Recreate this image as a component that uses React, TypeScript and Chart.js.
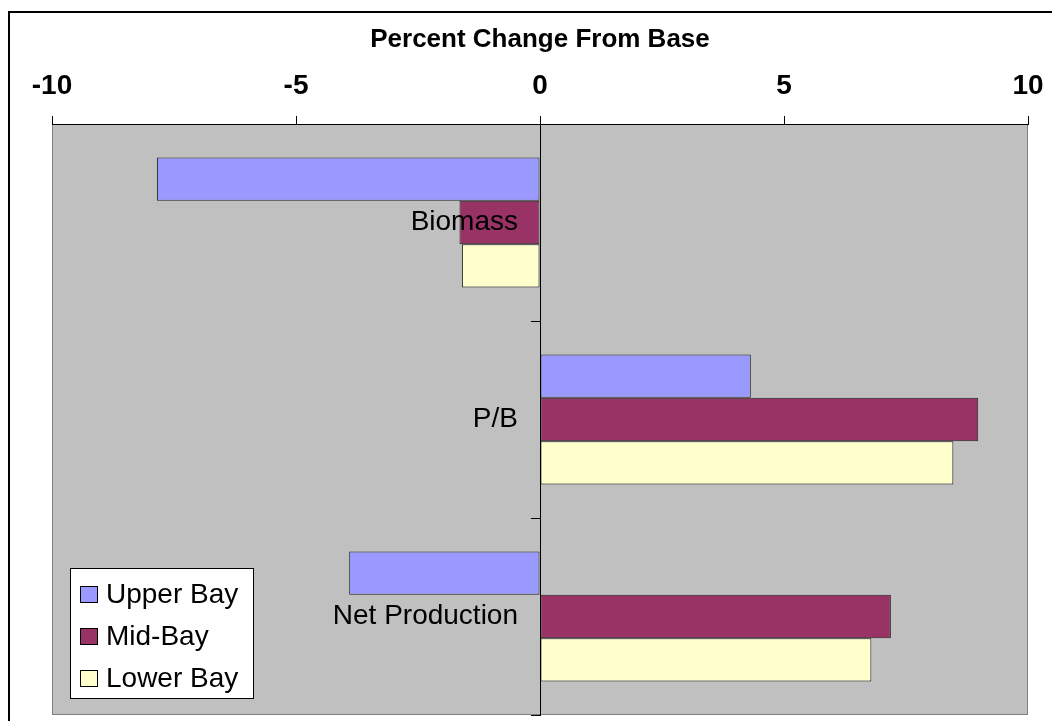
import React, { useEffect, useRef } from "react";
import { Chart, registerables } from "chart.js";

Chart.register(...registerables);

const categories = ["Biomass", "P/B", "Net Production"];
const seriesNames = ["Upper Bay", "Mid-Bay", "Lower Bay"];
const upperBay = [-7.85, 4.32, -3.91];
const midBay = [-1.65, 8.98, 7.19];
const lowerBay = [-1.6, 8.47, 6.79];
const seriesColors = ["#9999FF", "#993366", "#FFFFCC"];
const xTicks = [-10, -5, 0, 5, 10];
const axisTitle = "Percent Change From Base";

const FONT = "'Liberation Sans', Arial, sans-serif";
const Y_LABEL_GAP = 22;

const framePlugin = {
  id: "frame",
  beforeDraw(chart: any) {
    const { ctx, chartArea: a } = chart;
    // shift category labels left of the zero axis (library computes them at the axis line)
    const yScale = chart.scales.y;
    const items: any = yScale.getLabelItems();
    if (!items._shifted) {
      items.forEach((it: any) => {
        it.options.translation[0] -= Y_LABEL_GAP;
      });
      items._shifted = true;
    }
    ctx.save();
    ctx.fillStyle = "#ffffff";
    ctx.fillRect(0, 0, chart.width, chart.height);
    ctx.strokeStyle = "#000000";
    ctx.lineWidth = 2;
    ctx.beginPath();
    ctx.moveTo(9, chart.height);
    ctx.lineTo(9, 12);
    ctx.lineTo(chart.width, 12);
    ctx.stroke();
    ctx.fillStyle = "#C0C0C0";
    ctx.fillRect(a.left, a.top, a.right - a.left, a.bottom - a.top);
    ctx.strokeStyle = "#808080";
    ctx.lineWidth = 1;
    ctx.strokeRect(a.left + 0.5, a.top + 0.5, a.right - a.left - 1, a.bottom - a.top - 1);
    ctx.restore();
  },
  afterDraw(chart: any) {
    const { ctx } = chart;
    const bx = 70, by = 568, bw = 183, bh = 130;
    ctx.save();
    ctx.fillStyle = "#ffffff";
    ctx.fillRect(bx, by, bw, bh);
    ctx.strokeStyle = "#000000";
    ctx.lineWidth = 1;
    ctx.strokeRect(bx + 0.5, by + 0.5, bw, bh);
    ctx.font = `28px ${FONT}`;
    ctx.textBaseline = "middle";
    ctx.textAlign = "left";
    chart.data.datasets.forEach((ds: any, i: number) => {
      const cy = 594 + i * 42;
      ctx.fillStyle = ds.backgroundColor;
      ctx.fillRect(80, cy - 8, 17, 16);
      ctx.strokeStyle = "#000000";
      ctx.strokeRect(80.5, cy - 7.5, 17, 16);
      ctx.fillStyle = "#000000";
      ctx.fillText(ds.label, 106, cy + 1);
    });
    ctx.restore();
  },
};

export default function App() {
  const ref = useRef<HTMLCanvasElement | null>(null);
  useEffect(() => {
    if (!ref.current) return;
    const seriesValues = [upperBay, midBay, lowerBay];
    const zeroPad = (s: any) => {
      s.paddingTop = 0;
      s.paddingBottom = 0;
      s.paddingLeft = 0;
      s.paddingRight = 0;
    };
    const chart = new Chart(ref.current, {
      type: "bar",
      data: {
        labels: categories,
        datasets: seriesNames.map((name, i) => ({
          label: name,
          data: seriesValues[i],
          backgroundColor: seriesColors[i],
          borderColor: "#222222",
          borderWidth: 1,
          borderSkipped: false,
          categoryPercentage: 0.66,
          barPercentage: 1,
        })),
      },
      options: {
        indexAxis: "y",
        animation: false,
        responsive: false,
        maintainAspectRatio: false,
        layout: { padding: { left: 52, right: 24, top: 0, bottom: 6 } },
        plugins: { legend: { display: false }, tooltip: { enabled: false }, title: { display: false } },
        scales: {
          x: {
            type: "linear",
            position: "top",
            min: -10,
            max: 10,
            afterBuildTicks: (s: any) => {
              s.ticks = xTicks.map((v) => ({ value: v }));
            },
            afterFit: (s: any) => {
              s.height = 124;
              zeroPad(s);
            },
            grid: { drawOnChartArea: false, drawTicks: true, tickLength: 8, color: "#000000", tickColor: "#000000" },
            border: { display: true, color: "#000000", width: 1 },
            ticks: { color: "#000000", font: { family: FONT, size: 28, weight: "bold" }, padding: 13, maxRotation: 0 },
            title: {
              display: true,
              text: axisTitle,
              color: "#000000",
              font: { family: FONT, size: 26, weight: "bold" },
              padding: { top: 24, bottom: 0 },
            },
          },
          y: {
            type: "category",
            axis: "y",
            position: { x: 0 } as any,
            offset: true,
            afterFit: (s: any) => {
              zeroPad(s);
            },
            grid: {
              offset: true,
              drawOnChartArea: false,
              drawTicks: true,
              tickLength: 9,
              color: "#000000",
              tickColor: (c: any) => (c.index === 0 ? "rgba(0,0,0,0)" : "#000000"),
              z: 1,
            },
            border: { display: true, color: "#000000", width: 1, z: 1 },
            ticks: { color: "#000000", font: { family: FONT, size: 28 }, padding: 13, z: 2 },
          },
        },
      } as any,
      plugins: [framePlugin],
    });
    return () => chart.destroy();
  }, []);
  return (
    <div style={{ position: "absolute", left: 0, top: 0, width: 1052, height: 721 }}>
      <canvas ref={ref} width={1052} height={721} style={{ display: "block" }} />
    </div>
  );
}
